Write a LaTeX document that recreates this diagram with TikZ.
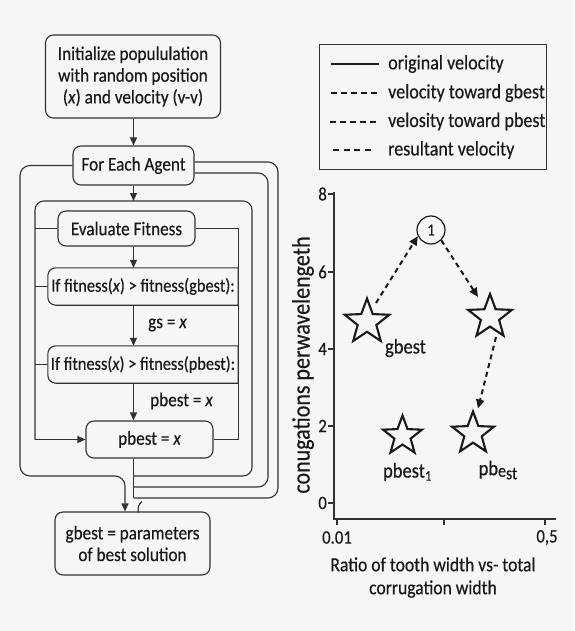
\documentclass[tikz,border=0pt]{standalone}
\usepackage{fontspec}
\setmainfont{Carlito}[FakeStretch=0.88,FakeBold=0.35]
\usetikzlibrary{arrows.meta,shapes.geometric,calc}
\definecolor{bg}{RGB}{246,246,246}
\definecolor{ink}{RGB}{25,25,25}
\definecolor{ln}{RGB}{50,50,50}
\begin{document}
\begin{tikzpicture}[x=1pt,y=-1pt,
  fc/.style={font=\fontsize{19.5}{21.7}\selectfont, text=ink},
  box/.style={fc, draw=ln, line width=1.1pt, rounded corners=8pt, align=center, inner sep=0pt},
  ifbox/.style={fc, font=\fontsize{18.6}{21}\selectfont, inner sep=0pt, minimum width=190pt, minimum height=37pt},
  conn/.style={draw=ln, line width=1.1pt},
  arr/.style={conn, -{Triangle[length=8pt,width=7pt]}},
  axis/.style={draw=ln, line width=1.1pt},
  tick/.style={font=\fontsize{19}{21}\selectfont, text=ink, inner sep=1pt},
  leg/.style={font=\fontsize{20.5}{22}\selectfont, text=ink, anchor=west, inner sep=0pt},
  vel/.style={draw=ink, line width=1.6pt},
  varr/.style={draw=ink, line width=2pt, dash pattern=on 5pt off 4pt, -{Triangle[length=9pt,width=8pt]}},
  starn/.style={star, star points=5, star point ratio=2.4, draw=ink, line width=2.1pt, inner sep=0pt},
  lab/.style={font=\fontsize{21}{23}\selectfont, text=ink, inner sep=0pt}]
\fill[bg] (0,0) rectangle (574,631);
\useasboundingbox (0,0) rectangle (574,631);

% ---------- flowchart ----------
\node[box, minimum width=175pt, minimum height=83pt] (init) at (133,76.5)
  {Initialize popululation\\with random position\\(\textit{x}) and velocity (v-v)};
\node[box, minimum width=121pt, minimum height=39pt] (fea) at (133.5,165.5) {For Each Agent};
\node[box, minimum width=137pt, minimum height=35pt] (eval) at (126.5,228.5) {Evaluate Fitness};
\node[ifbox] (if1) at (143,286.5) {If fitness(\textit{x}) > fitness(gbest):};
\node[ifbox] (if2) at (143,364.5) {If fitness(\textit{x}) > fitness(pbest):};
\node[box, minimum width=127pt, minimum height=37pt] (pb) at (149.5,439.5) {pbest = \textit{x}};
\node[box, minimum width=155pt, minimum height=63pt] (gb) at (132.5,543.5) {gbest = parameters\\of best solution};

% if boxes: rounded on the left, square on the right
\foreach \n in {if1,if2}{
  \draw[conn, line cap=rect] (\n.north east) [rounded corners=8pt] -- (\n.north west) -- (\n.south west) [sharp corners] -- (\n.south east) -- (\n.north east);
}

\coordinate (itl) at (35,201);
\coordinate (itr) at (252,201);
\coordinate (ibr) at (252,476);
\coordinate (m1) at (268,173);
\coordinate (m2) at (268,487);
\coordinate (o1) at (278,162);
\coordinate (o2) at (278,498);
\coordinate (l1) at (20,165.5);
\coordinate (la) at (125,476);
\coordinate (rx) at (if1.east |- eval.east);

\draw[arr] (init.south -| fea.south) -- (fea.north);
\draw[arr] (fea.south) -- (fea.south |- itl);
\draw[arr] (eval.south -| fea.south) -- (if1.north -| fea.south);
\draw[arr] (if1.south -| fea.south) -- (if2.north -| fea.south);
\draw[arr] (if2.south -| fea.south) -- (pb.north -| fea.south);
\node[fc, anchor=west, inner sep=0pt] (lgs) at (148,325) {gs = \textit{x}};
\node[fc, anchor=west, inner sep=0pt] (lpb) at (150,401) {pbest = \textit{x}};

% inner loop
\draw[conn, rounded corners=9pt] (ibr -| fea.south) -- (ibr) -- (itr) -- (itl) -- (itl |- pb.west);
\draw[arr] (itl |- pb.west) -- (pb.west);
\draw[conn] (itl |- eval.west) -- (eval.west);
\draw[conn] (itl |- if1.west) -- (if1.west);
\draw[conn] (itl |- if2.west) -- (if2.west);

% right connector
\draw[conn] (eval.east) -- (rx) -- (rx |- if1.north);
\draw[conn] (rx |- if1.south) -- (rx |- if2.north);
\draw[conn] (rx |- if2.south) -- (rx |- pb.east) -- (pb.east);

% outer loops on the right
\draw[conn, rounded corners=10pt] (fea.east |- m1) -- (m1) -- (m2) -- (m2 -| fea.south);
\draw[conn, rounded corners=10pt] (fea.east |- o1) -- (o1) -- (o2) -- (o2 -| fea.south);
\draw[conn] (pb.south -| fea.south) -- (o2 -| fea.south);

% outer loop on the left
\draw[arr, rounded corners=10pt] (fea.west) -- (l1) -- (l1 |- la) -- (la) -- (la |- gb.north);

% small bracket
\draw[conn] (142,501.5) .. controls (138.5,504) and (137.5,508) .. (138.5,512.5);

% ---------- legend ----------
\draw[draw=ln, line width=1pt] (319,45) rectangle (546,170);
\node[leg] (t1) at (388,64) {original velocity};
\node[leg] (t2) at (388,93) {velocity toward gbest};
\node[leg] (t3) at (388,121.5) {velosity toward pbest};
\node[leg] (t4) at (388,150) {resultant velocity};
\draw[vel] (331,64) -- (379,64);
\draw[vel, dash pattern=on 6pt off 4pt] (331,93) -- (377,93);
\draw[vel, dash pattern=on 6pt off 4pt] (330,122) -- (379,122);
\draw[vel, dash pattern=on 6pt off 4.5pt] (333,150) -- (373,150);

% ---------- plot ----------
\draw[axis] (334,192) -- (334,519) -- (556,519);
\foreach \v/\yy in {8/194,6/272,4/349,2/426,0/503}{
  \draw[axis] (328,\yy) -- (334,\yy);
  \node[tick, anchor=east] at (328,\yy) {\v};
}
\foreach \xx in {337,444,545}{ \draw[axis] (\xx,519) -- (\xx,525); }
\node[tick] (x0) at (337,537.5) {0.01};
\node[tick] (x1) at (547,537.5) {0,5};
\node[font=\fontsize{20}{23}\selectfont, text=ink, align=center, inner sep=0pt] (xt) at (433,577.5)
  {Ratio of tooth width vs- total\\corrugation width};
\node[font=\fontsize{25}{27}\selectfont, text=ink, rotate=90, inner sep=0pt] (yt) at (303,365) {conugations perwavelengeth};

\node[starn, minimum size=47pt] (s1) at (367,322) {};
\node[starn, minimum size=46pt] (s2) at (490,317) {};
\node[starn, minimum size=41pt] (s3) at (402.5,436) {};
\node[starn, minimum size=44pt] (s4) at (473,433.5) {};
\node[circle, draw=ink, line width=1.2pt, minimum size=28pt, inner sep=0pt, font=\fontsize{17}{19}\selectfont, text=ink] (c1) at (431,230) {1};

\node[lab] (l_g) at (405.5,348) {gbest};
\node[lab] (l_p1) at (408,472) {pbest$_{\mathrm{1}}$};
\node[lab] (l_p2) at (498,470) {pb\raisebox{-1.5pt}{\fontsize{18}{20}\selectfont e}\raisebox{-4pt}{\fontsize{18}{20}\selectfont st}};

\draw[varr] ($(s1)+(9,-19)$) -- (c1.205);
\draw[varr] (c1.-45) -- ($(s2)+(-12,-20)$);
\draw[varr] ($(s2)+(6,20)$) -- ($(s4)+(5,-25)$);
\end{tikzpicture}
\end{document}
